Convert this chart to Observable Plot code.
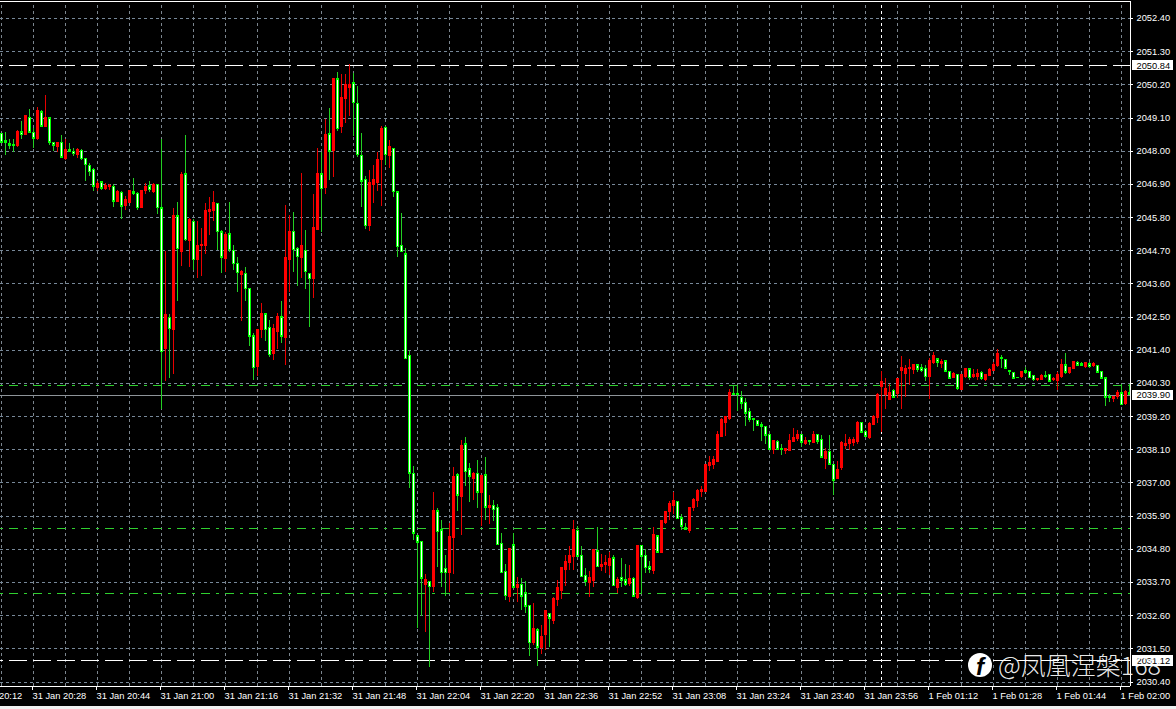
<!DOCTYPE html>
<html><head><meta charset="utf-8">
<script src="https://cdn.jsdelivr.net/npm/d3@7"></script>
<script src="https://cdn.jsdelivr.net/npm/@observablehq/plot@0.6"></script>
<style>
html,body{margin:0;padding:0;background:#f0f0f0;overflow:hidden}
#wrap{position:relative;width:1176px;height:709px}
svg{display:block}
svg line,svg rect,svg path{shape-rendering:crispEdges}
#mark{position:absolute;left:998px;top:647px;color:rgba(255,255,255,.93);font:300 25px/34px "Noto Sans CJK SC","Noto Sans";white-space:nowrap}
#icon{position:absolute;left:968px;top:653px;width:24px;height:24px;border-radius:50%;background:#fff;color:#000;font:italic 700 24px/27px "Liberation Sans";text-align:center}
#icon i{position:absolute;left:6px;top:19px;width:9px;height:9px;background:#fff;transform:skewX(-20deg) rotate(45deg);z-index:-1}
</style></head><body>
<div id="wrap"></div>
<script>
const priceBase = 2000;
const opens = [48.59,48.33,48.26,48.20,48.17,48.63,48.53,49.12,48.62,48.39,
49.30,48.80,49.10,48.29,48.14,48.29,47.74,48.04,47.99,47.86,
48.03,47.76,47.53,47.40,46.79,46.97,46.74,46.82,46.83,46.32,
46.63,46.18,46.27,46.64,46.60,46.11,46.68,46.84,46.64,46.88,
46.11,41.44,42.48,42.07,45.85,44.65,47.24,45.02,45.67,44.39,
44.85,44.85,45.98,46.01,46.27,45.32,44.42,45.25,44.71,44.28,
43.89,43.95,43.45,41.87,40.84,42.07,42.60,42.16,41.27,42.00,
42.50,41.80,44.39,45.34,44.78,44.46,44.71,43.93,43.76,45.38,
47.24,46.78,48.57,48.00,50.39,48.80,49.73,50.09,50.26,49.58,
47.86,47.06,45.52,46.88,46.94,47.70,48.77,47.84,48.09,46.64,
44.88,44.59,41.23,37.30,35.24,35.06,33.62,33.72,33.55,36.07,
35.44,34.15,34.01,35.18,37.26,36.53,38.29,37.46,37.13,37.30,
36.67,37.26,36.17,36.24,36.17,34.98,34.05,33.22,34.94,33.52,
33.62,33.35,32.94,31.69,32.12,31.53,31.96,32.66,32.42,33.12,
33.42,34.11,34.35,34.55,35.41,34.58,33.92,33.68,33.75,34.74,
34.21,34.28,34.25,34.51,33.52,33.85,33.78,33.65,33.82,33.19,
34.91,34.58,34.21,34.08,35.24,34.68,35.67,36.04,36.24,36.39,
35.83,35.50,35.41,36.17,36.40,36.71,36.71,37.57,37.60,37.70,
38.53,38.99,39.13,39.95,39.95,39.84,39.66,39.36,39.13,39.06,
38.93,38.86,38.60,38.10,38.36,38.12,38.06,38.06,38.36,38.46,
38.60,38.30,38.40,38.33,38.60,38.43,37.80,38.03,37.60,37.14,
37.50,38.23,38.30,38.33,38.36,38.99,38.69,38.50,38.93,39.16,
40.19,39.92,39.76,40.05,39.95,40.71,40.61,40.78,40.75,40.91,
40.81,40.78,40.51,40.98,41.11,40.94,41.04,40.68,40.48,40.58,
40.08,40.51,40.77,40.51,40.51,40.65,40.41,40.55,40.71,40.88,
41.14,41.08,40.71,40.65,40.50,40.51,40.71,40.68,40.55,40.41,
40.41,40.55,40.58,40.41,40.38,40.51,40.91,40.65,40.78,40.98,
40.94,40.84,40.94,40.88,40.88,40.68,40.48,39.85,39.78,39.85,
39.98,39.62,39.98];
const highs = [48.59,48.63,48.40,48.39,48.68,48.99,49.20,49.38,48.75,49.46,
49.34,49.86,49.12,48.29,48.29,48.53,48.39,48.27,48.08,48.08,
48.06,47.76,47.59,47.42,46.98,46.98,46.94,46.91,46.89,46.71,
46.65,46.51,46.68,47.11,46.62,46.68,46.94,47.01,46.93,46.90,
48.39,44.69,42.57,46.11,46.31,47.31,48.53,45.78,45.72,45.67,
45.45,46.27,46.48,46.68,46.27,45.38,45.29,46.31,44.88,44.46,
44.06,44.16,43.46,41.96,42.09,42.96,42.60,42.40,42.26,42.63,
43.03,46.21,45.88,45.98,44.81,47.27,45.38,43.93,46.58,48.10,
47.97,49.06,49.43,50.39,50.62,50.56,50.56,50.89,50.58,50.16,
48.60,47.17,47.37,47.54,47.97,48.83,48.83,48.37,48.10,46.64,
45.95,44.79,41.37,37.56,35.24,35.06,33.95,33.72,36.70,36.14,
35.74,34.58,35.67,37.50,37.30,38.42,38.52,37.66,37.36,37.76,
37.26,37.83,36.60,36.43,36.27,35.31,34.31,34.81,35.34,33.85,
33.82,33.72,32.94,32.99,32.19,32.29,32.76,32.66,33.19,33.78,
34.21,34.61,34.88,35.77,35.54,34.88,34.15,34.05,34.81,35.51,
34.64,34.58,34.71,34.61,33.88,34.51,34.31,34.25,33.85,34.91,
34.91,34.78,34.41,35.51,35.27,35.77,36.07,36.40,36.67,36.40,
35.94,35.64,36.17,36.47,36.77,36.87,37.60,37.87,37.87,38.69,
39.13,39.19,40.09,40.24,40.24,40.02,39.81,39.46,39.13,39.06,
38.99,38.86,38.60,38.40,38.40,38.26,38.13,38.60,38.79,38.73,
38.60,38.50,38.40,38.69,38.60,38.56,38.13,38.56,37.60,37.70,
38.36,38.60,38.50,38.50,39.03,38.99,38.73,38.99,39.23,39.95,
40.68,40.45,40.25,40.09,40.45,41.18,40.88,41.11,40.94,40.91,
40.94,40.91,41.14,41.34,41.11,41.08,41.04,40.68,40.65,40.61,
40.58,40.78,40.77,40.75,40.75,40.68,40.61,40.78,41.01,41.44,
41.21,41.08,40.71,40.65,40.50,40.68,40.84,40.68,40.55,40.45,
40.58,40.71,40.61,40.51,40.65,41.08,41.28,40.84,41.01,41.04,
41.01,41.01,41.01,40.98,40.88,40.68,40.48,39.92,39.88,40.08,
40.25,40.05,40.25];
const lows = [48.26,47.87,48.06,47.97,48.12,48.40,48.53,48.59,48.10,48.37,
48.79,48.77,48.20,47.98,47.97,47.76,47.70,47.96,47.84,47.76,
47.70,46.99,47.15,46.68,46.68,46.69,46.71,46.71,46.15,46.32,
45.72,46.05,46.27,46.54,46.05,46.11,46.58,46.64,46.60,45.91,
39.42,40.38,40.45,40.58,43.03,44.19,45.02,44.16,44.06,43.79,
43.86,44.59,45.22,45.68,44.70,43.96,43.99,44.65,44.04,43.33,
42.37,43.03,41.54,40.41,40.54,41.80,41.70,41.17,41.07,41.44,
41.61,40.91,43.33,43.99,43.53,43.79,43.43,42.17,43.13,45.38,
45.29,46.58,47.04,47.14,48.67,48.60,48.93,49.16,48.50,47.80,
46.15,45.42,45.35,46.25,46.68,46.18,47.51,47.44,46.45,44.46,
44.65,41.11,36.80,35.08,32.19,32.56,32.03,30.87,33.38,34.21,
33.55,33.22,33.38,33.98,36.07,35.27,36.87,36.34,36.43,36.14,
35.57,35.77,35.61,35.71,34.91,34.01,33.09,33.05,33.52,33.02,
32.76,32.66,31.26,31.60,30.93,31.30,31.43,31.53,32.32,32.89,
33.12,33.58,34.11,34.11,34.55,33.85,33.58,33.19,33.52,34.21,
34.05,34.01,33.92,33.58,33.32,33.55,33.58,33.58,33.22,33.15,
33.29,34.01,34.01,33.98,34.68,34.68,35.61,35.74,35.94,35.80,
35.41,35.41,35.34,36.07,36.20,36.51,36.71,37.37,37.43,37.67,
38.50,38.53,39.06,39.89,39.36,39.42,38.86,38.99,38.69,38.86,
38.36,38.26,38.06,37.96,38.06,37.90,37.96,38.03,38.33,38.36,
38.16,38.23,38.23,38.33,38.26,37.83,37.43,37.57,36.57,37.14,
37.40,38.10,38.06,38.20,38.26,38.63,38.50,38.43,38.93,38.96,
38.66,39.42,39.72,39.79,39.79,39.42,39.85,40.22,40.61,40.65,
40.65,40.35,39.78,40.94,40.84,40.78,40.68,40.45,40.45,40.08,
40.08,40.48,40.41,40.48,40.41,40.41,40.35,40.55,40.68,40.84,
40.78,40.78,40.55,40.45,40.48,40.48,40.61,40.45,40.35,40.38,
40.41,40.48,40.35,40.35,40.08,40.48,40.61,40.61,40.78,40.88,
40.88,40.78,40.81,40.84,40.65,40.45,39.55,39.68,39.68,39.78,
39.58,39.58,39.92];
const closes = [48.28,48.28,48.18,48.18,48.63,48.53,49.16,48.61,48.41,49.33,
48.81,49.10,48.28,48.18,48.29,47.78,48.04,47.98,47.89,48.04,
47.73,47.52,47.29,46.82,46.93,46.75,46.84,46.84,46.32,46.64,
46.16,46.38,46.68,46.59,46.11,46.68,46.81,46.71,46.90,46.11,
41.34,42.57,42.10,45.85,44.75,47.21,45.05,45.72,44.39,44.88,
44.89,46.01,46.06,46.28,45.30,44.46,45.22,44.72,44.26,43.96,
43.99,43.43,41.84,40.81,42.07,42.60,42.07,41.23,42.10,42.50,
41.84,44.46,45.34,44.71,44.49,44.85,43.99,43.76,45.45,47.24,
46.74,48.53,47.98,50.39,48.73,49.76,50.19,50.19,49.59,47.87,
46.98,45.52,46.94,47.04,47.70,48.73,47.87,48.14,46.64,44.82,
44.65,41.11,37.30,35.31,35.01,33.82,33.78,33.55,36.07,35.37,
34.01,34.01,35.21,37.20,36.57,38.22,37.36,37.20,37.30,36.67,
37.23,36.17,36.24,36.10,34.93,34.01,33.25,34.81,33.52,33.62,
33.22,32.89,31.69,32.16,31.53,31.89,32.76,32.49,33.15,33.52,
34.18,34.38,34.58,35.44,34.55,33.88,33.72,33.85,34.78,34.21,
34.28,34.35,34.48,33.58,33.78,33.75,33.62,33.82,33.22,34.91,
34.55,34.18,34.11,35.27,34.68,35.74,36.04,36.30,36.40,35.80,
35.54,35.43,36.17,36.43,36.73,36.77,37.60,37.67,37.77,38.60,
39.09,39.19,39.99,39.91,39.91,39.62,39.29,39.09,39.09,38.89,
38.86,38.56,38.10,38.40,38.10,38.10,38.13,38.40,38.50,38.60,
38.33,38.40,38.36,38.60,38.36,37.83,38.03,37.60,37.07,37.43,
38.33,38.30,38.43,38.43,38.99,38.66,38.53,38.96,39.19,39.92,
40.35,40.12,39.99,39.82,40.45,40.81,40.78,40.81,40.91,40.75,
40.71,40.51,41.04,41.21,40.98,41.01,40.68,40.45,40.61,40.12,
40.58,40.78,40.48,40.58,40.61,40.45,40.58,40.75,40.91,41.28,
41.11,40.78,40.68,40.45,40.48,40.68,40.65,40.48,40.41,40.45,
40.55,40.51,40.35,40.45,40.58,40.91,40.65,40.81,41.01,40.88,
40.88,40.98,40.84,40.94,40.65,40.45,39.82,39.82,39.85,39.98,
39.58,40.02,39.92];

const priceTicks = [2030.40,2031.50,2032.60,2033.70,2034.80,2035.90,2037.00,2038.10,2039.20,2040.30,2041.40,2042.50,2043.60,2044.70,2045.80,2046.90,2048.00,2049.10,2050.20,2051.30,2052.40];
const timeTicks = [-8,8,24,40,56,72,88,104,120,136,152,168,184,200,216,232,248,264,280];
const timeLabels = ["31 Jan 20:12","31 Jan 20:28","31 Jan 20:44","31 Jan 21:00","31 Jan 21:16","31 Jan 21:32","31 Jan 21:48","31 Jan 22:04","31 Jan 22:20","31 Jan 22:36","31 Jan 22:52","31 Jan 23:08","31 Jan 23:24","31 Jan 23:40","31 Jan 23:56","1 Feb 01:12","1 Feb 01:28","1 Feb 01:44","1 Feb 02:00"];
const gridBars = d3.range(0,283,8);
const daySeparator = [220];
const whiteLevels = [2050.84,2031.10];
const greenLevels = [2040.24,2035.50,2033.34];
const bidLevel = [2039.90];
const priceTags = [{p:2050.84,t:"2050.84"},{p:2039.90,t:"2039.90"},{p:2031.10,t:"2031.12"}];

const candles = opens.map((o,i)=>({i,open:priceBase+o,high:priceBase+highs[i],low:priceBase+lows[i],close:priceBase+closes[i]}));
const ups = candles.filter(d=>d.close>=d.open), downs = candles.filter(d=>d.close<d.open);
const font = '"Liberation Sans"';
const xMax = 282.25, yTop = 2052.964, yBot = 2030.251;

const chart = Plot.plot({
  width:1176, height:706, marginLeft:0, marginRight:46, marginTop:1, marginBottom:20,
  style:{background:"#000",fontFamily:font,overflow:"hidden"},
  x:{domain:[-0.25,xMax],range:[0,1130],axis:null},
  y:{domain:[yBot,yTop],range:[686,1],axis:null},
  marks:[
    Plot.ruleX(gridBars,{y1:yBot,y2:yTop,stroke:"#7b858e",strokeDasharray:"3,3"}),
    Plot.ruleY(priceTicks,{x1:-0.25,x2:xMax,stroke:"#778899",strokeDasharray:"3,3"}),
    Plot.ruleX(daySeparator,{y1:yBot,y2:yTop,stroke:"#fff",strokeDasharray:"3,3"}),
    Plot.ruleY(bidLevel,{x1:-0.25,x2:xMax,stroke:"#8e9499"}),
    Plot.ruleY(greenLevels,{x1:-0.25,x2:xMax,stroke:"#2fd02f",strokeDasharray:"9,6,3,6",strokeDashoffset:14.67}),
    Plot.ruleY(whiteLevels,{x1:-0.25,x2:xMax,stroke:"#fff",strokeDasharray:"18,6",strokeDashoffset:14.67}),
    Plot.ruleX(downs,{x:"i",y1:"low",y2:"high",stroke:"#22d022"}),
    Plot.ruleX(ups,{x:"i",y1:"low",y2:"high",stroke:"#e80000"}),
    Plot.rect(downs,{x1:d=>d.i-0.25,x2:d=>d.i+0.5,y1:"close",y2:"open",fill:"#00ff00",insetTop:-0.3,insetBottom:-0.3}),
    Plot.rect(downs,{x1:d=>d.i,x2:d=>d.i+0.25,y1:"close",y2:"open",fill:"#fff",insetTop:1,insetBottom:1}),
    Plot.rect(ups,{x1:d=>d.i-0.25,x2:d=>d.i+0.5,y1:"open",y2:"close",fill:"#ff0000",insetTop:-0.3,insetBottom:-0.3}),
    Plot.ruleY([yTop,yBot],{x1:-0.25,x2:xMax,stroke:"#fff"}),
    Plot.ruleX([xMax],{y1:yBot,y2:yTop,stroke:"#fff"}),
    Plot.axisX({ticks:timeTicks,tickFormat:i=>timeLabels[timeTicks.indexOf(i)],anchor:"bottom",label:null,textAnchor:"start",tickSize:4,tickPadding:1.5,dx:-1,color:"#fff",fontSize:9.3}),
    Plot.ruleY(priceTicks,{x1:xMax,x2:xMax+0.75,stroke:"#fff"}),
    Plot.axisY({ticks:priceTicks,tickFormat:".2f",anchor:"right",label:null,tickSize:0,tickPadding:6,color:"#fff",fontSize:9.3}),
    Plot.rect(priceTags,{x1:()=>282.75,x2:()=>292.9,y1:d=>d.p-0.18,y2:d=>d.p+0.18,fill:"#fff"}),
    Plot.text(priceTags,{x:()=>283.75,y:"p",text:"t",textAnchor:"start",fill:"#000",fontSize:9.3})
  ]
});
const wrap = document.getElementById("wrap");
wrap.appendChild(chart);
const icon = document.createElement("div"); icon.id="icon"; icon.innerHTML="<i></i>f";
const mark = document.createElement("div"); mark.id="mark"; mark.textContent="@凤凰涅槃168";
wrap.append(icon,mark);
</script></body></html>
